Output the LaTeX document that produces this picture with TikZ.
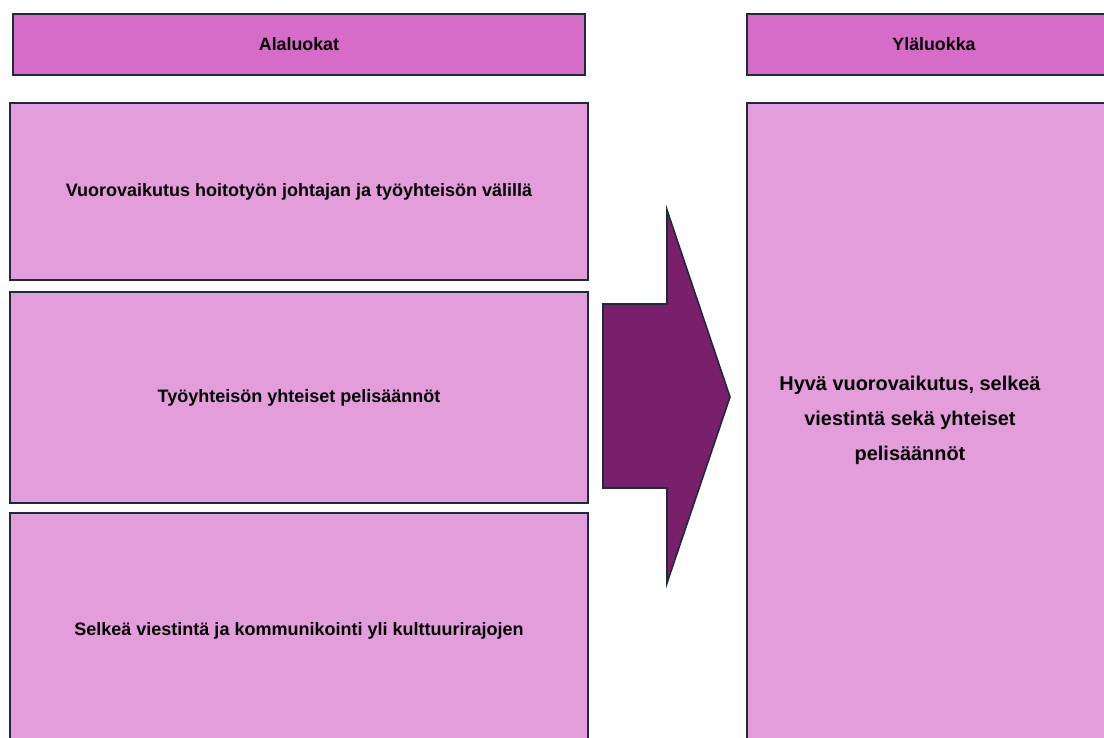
\documentclass[tikz,border=0pt]{standalone}
\usepackage{fontspec}
\setmainfont{Liberation Sans}
\usetikzlibrary{positioning}
\definecolor{headfill}{HTML}{D66CC8}
\definecolor{boxfill}{HTML}{E39DDB}
\definecolor{arrowfill}{HTML}{7A1F6C}
\definecolor{edge}{HTML}{1C2B3A}
\begin{document}
\begin{tikzpicture}[x=1pt,y=-1pt,
  head/.style={draw=edge,line width=2pt,fill=headfill,inner sep=0pt,anchor=north west,font=\bfseries\fontsize{17.8}{21}\selectfont},
  cat/.style={draw=edge,line width=2pt,fill=boxfill,inner sep=0pt,anchor=north west,font=\bfseries\fontsize{18}{21}\selectfont}]
\useasboundingbox (0,0) rectangle (1104,738);
\clip (0,0) rectangle (1104,738);
\node[head,minimum width=572pt,minimum height=61pt] (alahead) at (12,13) {Alaluokat};
\node[head,minimum width=374pt,minimum height=61pt] (ylahead) at (746,13) {Yläluokka};
\node[cat,minimum width=578pt,minimum height=177pt] (ala1) at (9,102) {Vuorovaikutus hoitotyön johtajan ja työyhteisön välillä};
\node[cat,minimum width=578pt,minimum height=211pt] (ala2) at (9,291) {Työyhteisön yhteiset pelisäännöt};
\node[cat,minimum width=578pt,minimum height=236pt] (ala3) at (9,512) {Selkeä viestintä ja kommunikointi yli kulttuurirajojen};
\node[cat,minimum width=374pt,minimum height=660pt] (yla) at (746,102) {};
\node[font=\bfseries\fontsize{19.9}{35}\selectfont,align=center] (ylateksti) at (910,420) {Hyvä vuorovaikutus, selkeä\\viestintä sekä yhteiset\\pelisäännöt};
% nuoli
\draw[draw=edge,line width=1.6pt,fill=arrowfill,line join=miter] (603,304)--(667,304)--(667,210)--(730,397)--(667,583)--(667,488)--(603,488)--cycle;
\end{tikzpicture}
\end{document}
